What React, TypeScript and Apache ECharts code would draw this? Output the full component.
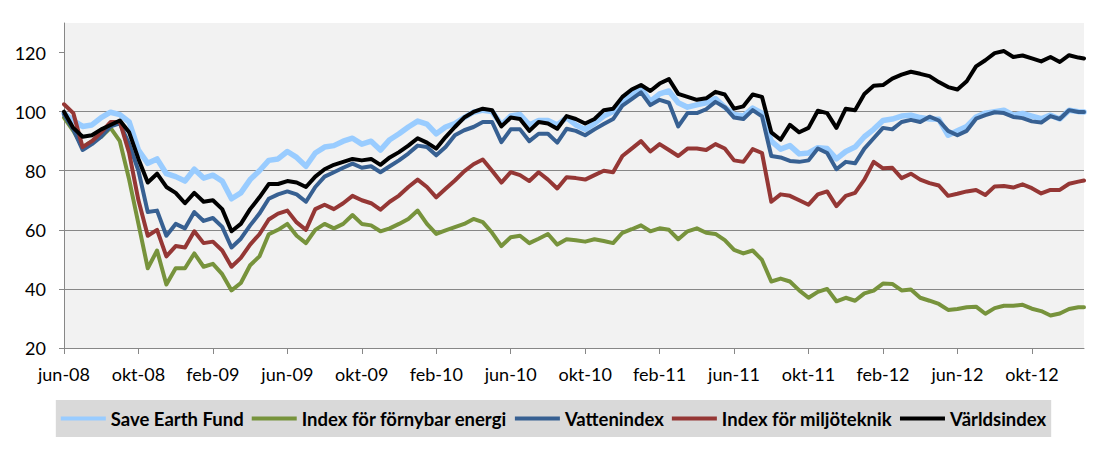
import React, { useEffect, useRef } from "react";
import * as echarts from "echarts";

// x grid: months since June 2008 (half-month steps), last point late Dec 2012
const months: number[] = [];
for (let i = 0; i < 110; i++) months.push(i * 0.5);
months.push(54.8);

const tickLabels = [
  "jun-08", "okt-08", "feb-09", "jun-09", "okt-09", "feb-10", "jun-10",
  "okt-10", "feb-11", "jun-11", "okt-11", "feb-12", "jun-12", "okt-12",
];
const tickMonths = [0, 4, 8, 12, 16, 20, 24, 28, 32, 36, 40, 44, 48, 52];
const yTicks = [20, 40, 60, 80, 100, 120];

const seriesNames = [
  "Save Earth Fund",
  "Index för förnybar energi",
  "Vattenindex",
  "Index för miljöteknik",
  "Världsindex",
];

const saveEarthFund = [
  99.5, 97, 95, 95.5, 98, 99.8, 99, 96.5, 87, 82.5, 84, 79, 78, 76.5, 80.5, 77.5, 78.5, 76.5, 70.5, 72.5, 77, 80, 83.5, 84, 86.5, 84.5, 81.5, 86,
  88, 88.5, 90, 91, 89, 90, 87, 90.5, 92.5, 94.8, 96.8, 95.8, 92.5, 94.8, 96, 98, 99.8, 100.5, 100, 95.5, 98.5, 99, 95.5, 97, 97, 95.5,
  98, 95.5, 94, 96, 98.5, 100, 103.8, 105.5, 108, 103.5, 106, 107, 103, 101.5, 102.3, 103, 104.4, 101.5, 99, 98.5, 101.2, 99.5, 90, 87.3, 88.5, 85.7, 86,
  87.8, 87.5, 84, 86.5, 88, 91.5, 94, 97, 97.5, 98.5, 98.8, 98, 97.5, 97.4, 92, 93.5, 95, 98.2, 99.5, 100, 100.5, 98.8, 99.4, 98.5, 97.6, 98.8, 97.5, 100.5, 100, 99.9,
];

const fornybarEnergi = [
  98, 93.5, 88, 90, 91.5, 94.5, 90, 77, 62, 47, 53, 41.5, 47, 47, 52, 47.5, 48.5, 45, 39.5, 42, 48, 51, 58.5, 60, 62, 58, 55.5, 60,
  62, 60.5, 62, 65, 62, 61.5, 59.5, 60.5, 62, 63.7, 66.5, 62, 58.6, 59.8, 60.9, 62, 63.7, 62.6, 59, 54.5, 57.5, 58, 55.5, 57, 58.6, 55,
  56.8, 56.5, 56, 56.8, 56.2, 55.5, 59, 60.2, 61.5, 59.5, 60.5, 60, 56.8, 59.5, 60.5, 59, 58.6, 56.5, 53.2, 52, 53, 49.8, 42.5, 43.5, 42.5, 39.5, 37,
  39, 40, 35.8, 37, 36, 38.5, 39.4, 41.8, 41.7, 39.5, 39.8, 37, 36, 34.9, 32.9, 33.2, 33.8, 34, 31.6, 33.5, 34.3, 34.3, 34.6, 33.3, 32.5, 31, 31.7, 33.2, 33.8, 33.8,
];

const vattenindex = [
  99, 94, 87, 89, 91.5, 95, 96, 89, 80, 66, 66.5, 58, 62, 60.5, 66, 63, 64, 61, 54, 57, 61.5, 65.5, 70.5, 72, 73, 72, 69.5, 74.5,
  78, 79.5, 81, 82.4, 81, 81.5, 79.5, 81.5, 83.5, 85.8, 88.5, 88, 85.2, 88, 92, 93.7, 94.8, 96.5, 96.5, 89.7, 94, 94, 90, 92.5, 92.5, 89.5,
  94.2, 93.5, 92, 94, 95.8, 97.5, 102, 104.2, 106.5, 102.2, 104, 103, 95, 99.5, 99.5, 100.8, 103.3, 101.5, 98, 97.5, 100.5, 98.4, 85, 84.5, 83.3, 83, 83.5,
  87.5, 86, 80.5, 83, 82.5, 87.5, 91, 94.5, 94, 96.5, 97.2, 96.5, 98.3, 97, 93.5, 92, 93.5, 97.6, 98.8, 99.8, 99.5, 98.2, 97.8, 96.7, 96.3, 98.5, 97.5, 100.5, 99.9, 99.9,
];

const miljoteknik = [
  102.5, 99.5, 88, 90, 93, 96.5, 96.5, 86, 70, 58, 60, 51, 54.5, 54, 59.5, 55.5, 56, 53, 47.5, 50.5, 55, 58.5, 63.5, 65.5, 66.5, 62.5, 60, 67,
  68.5, 67, 69, 71.5, 70, 69, 66.8, 69.5, 71.6, 74.5, 77, 74.5, 71, 73.9, 76.7, 79.8, 82.2, 83.8, 80, 76, 79.5, 78.5, 76.5, 79.5, 77, 74,
  77.8, 77.5, 77, 78.5, 80, 79.5, 85, 87.5, 90, 86.5, 89, 87, 85, 87.5, 87.5, 87, 89, 87.5, 83.5, 83, 87.3, 86, 69.5, 72, 71.5, 70, 68.5,
  72, 73, 68, 71.5, 72.5, 77, 83, 80.8, 81, 77.5, 79, 77, 75.8, 75, 71.5, 72.2, 73, 73.5, 71.8, 74.7, 74.8, 74.3, 75.4, 74.1, 72.3, 73.5, 73.5, 75.6, 76.3, 76.7,
];

const varldsindex = [
  100, 94.5, 91.5, 92, 94, 95.5, 97, 93, 84, 76, 79, 74.5, 72.5, 69, 72.5, 69.5, 70, 67, 59.5, 62, 67, 71, 75.5, 75.5, 76.5, 76, 74.5, 78,
  80.5, 82, 83, 84, 83.5, 84, 82, 84.5, 86.3, 88.5, 91, 89.5, 87.5, 91.4, 94.8, 98, 99.9, 101, 100.5, 95, 98, 97.5, 93.5, 96.5, 96, 94.2,
  98.5, 97.5, 96, 97.5, 100.5, 101, 105, 107.5, 109, 107, 109.5, 111, 106, 105, 104, 104.5, 106.7, 105.8, 101, 101.8, 105.8, 105, 93, 90.5, 95.5, 93, 94.5,
  100.3, 99.5, 94.5, 101, 100.5, 106, 108.8, 109, 111.2, 112.5, 113.5, 112.8, 112, 110, 108.3, 107.5, 110.3, 115.3, 117.4, 119.8, 120.5, 118.5, 119, 118, 117, 118.5, 116.8, 119.1, 118.3, 118,
];

const seriesValues = [saveEarthFund, fornybarEnergi, vattenindex, miljoteknik, varldsindex];
const seriesColors = ["#99ccff", "#77933c", "#376092", "#953735", "#000000"];
const seriesWidths = [5.5, 4, 4, 4, 4];

const FONT = "Lato, 'Open Sans', sans-serif";
const AXIS_GRAY = "#878787";

export default function App() {
  const ref = useRef<HTMLDivElement>(null);

  useEffect(() => {
    if (!ref.current) return;
    const chart = echarts.init(ref.current, null, { renderer: "svg" });
    const option: any = {
      animation: false,
      backgroundColor: "#ffffff",
      grid: {
        left: 64,
        right: 23,
        top: 23,
        bottom: 102,
        show: true,
        backgroundColor: "#f2f2f2",
        borderWidth: 0,
      },
      xAxis: {
        type: "value",
        min: 0,
        max: 54.8,
        interval: 4,
        axisLine: { show: true, lineStyle: { color: AXIS_GRAY, width: 1 } },
        axisTick: {
          show: true,
          length: 6,
          lineStyle: { color: AXIS_GRAY },
          customValues: tickMonths,
        },
        axisLabel: {
          customValues: tickMonths,
          formatter: (v: number) => {
            const idx = tickMonths.indexOf(Math.round(v));
            return idx >= 0 ? tickLabels[idx] : "";
          },
          color: "#000",
          fontFamily: FONT,
          fontSize: 18,
          margin: 17,
        },
        splitLine: { show: false },
      },
      yAxis: {
        type: "value",
        min: 20,
        max: 130,
        interval: 20,
        axisLine: { show: true, lineStyle: { color: AXIS_GRAY, width: 1 } },
        axisTick: {
          show: true,
          length: 5,
          lineStyle: { color: AXIS_GRAY },
          customValues: yTicks,
        },
        axisLabel: {
          customValues: yTicks,
          color: "#000",
          fontFamily: FONT,
          fontSize: 18,
          margin: 18,
        },
        splitLine: {
          show: true,
          showMaxLine: false,
          lineStyle: { color: AXIS_GRAY, width: 1 },
        },
      },
      legend: {
        left: "center",
        top: 400,
        backgroundColor: "#d9d9d9",
        padding: [9, 5, 9, 5],
        icon: "rect",
        itemWidth: 45,
        itemHeight: 4,
        itemGap: 8,
        textStyle: { fontFamily: FONT, fontWeight: "bold", fontSize: 18.5, color: "#000" },
        data: seriesNames.map((n, i) => ({
          name: n,
          itemStyle: { color: seriesColors[i], borderWidth: 0 },
        })),
      },
      series: seriesNames.map((name, i) => ({
        name,
        type: "line",
        symbol: "none",
        showSymbol: false,
        clip: true,
        lineStyle: { color: seriesColors[i], width: seriesWidths[i], join: "round", cap: "round" },
        itemStyle: { color: seriesColors[i] },
        data: months.map((m, j) => [m, seriesValues[i][j]]),
        z: 2 + i,
      })),
    };
    chart.setOption(option);
    return () => chart.dispose();
  }, []);

  return (
    <div
      ref={ref}
      style={{ position: "absolute", left: 0, top: 0, width: 1107, height: 450 }}
    />
  );
}
